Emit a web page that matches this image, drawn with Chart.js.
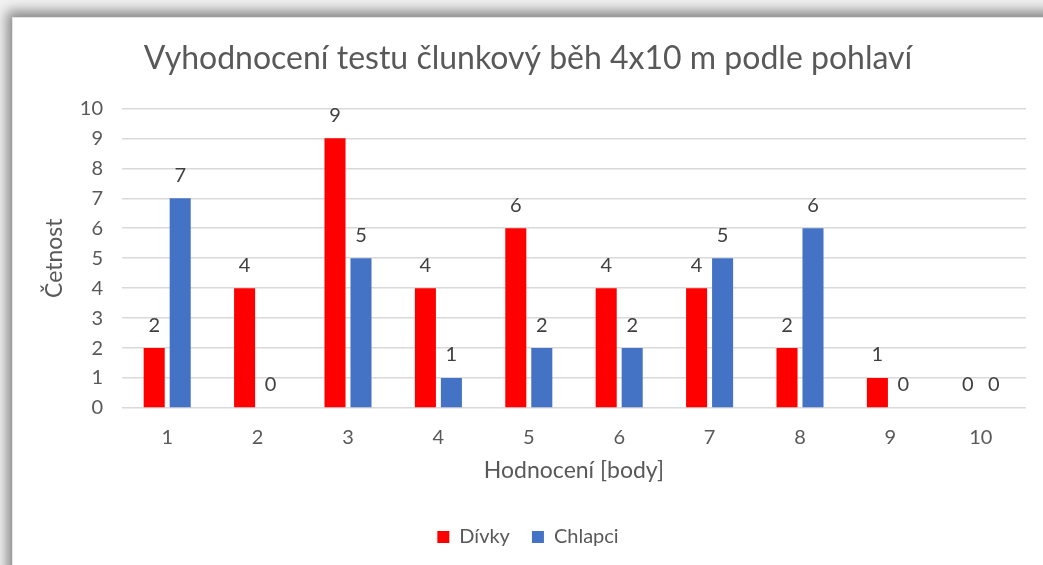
<!DOCTYPE html>
<html>
<head>
<meta charset="utf-8">
<script src="https://cdn.jsdelivr.net/npm/chart.js@4.4.1/dist/chart.umd.min.js"></script>
<style>
  html, body { margin: 0; padding: 0; background: #f2f2f2; overflow: hidden; }
  #frame { position: absolute; left: 12px; top: 17px; width: 1100px; height: 700px; background: #fff;
           border-left: 1px solid #e4e4e4; border-top: 1px solid #e4e4e4;
           box-shadow: -2px -3px 12px 3px rgba(0,0,0,0.45); }
  #wrap { position: absolute; left: 0; top: 0; width: 1043px; height: 565px; }
</style>
</head>
<body>
<div id="frame"></div>
<div id="wrap"><canvas id="c" width="1043" height="565"></canvas></div>
<script>
const categories = ['1', '2', '3', '4', '5', '6', '7', '8', '9', '10'];
const divky = [2, 4, 9, 4, 6, 4, 4, 2, 1, 0];
const chlapci = [7, 0, 5, 1, 2, 2, 5, 6, 0, 0];
const seriesNames = ['Dívky', 'Chlapci'];
const chartTitle = 'Vyhodnocení testu člunkový běh 4x10 m podle pohlaví';
const xTitle = 'Hodnocení [body]';
const yTitle = 'Četnost';

const FONT = 'Lato, "Open Sans", sans-serif';

const valueLabels = {
  id: 'valueLabels',
  afterDatasetsDraw(chart) {
    const ctx = chart.ctx;
    ctx.save();
    ctx.font = '20px ' + FONT;
    ctx.fillStyle = '#404040';
    ctx.textAlign = 'center';
    ctx.textBaseline = 'middle';
    chart.data.datasets.forEach((ds, i) => {
      const meta = chart.getDatasetMeta(i);
      meta.data.forEach((el, j) => {
        ctx.fillText(String(ds.data[j]), el.x, el.y - 23);
      });
    });
    ctx.restore();
  }
};

new Chart(document.getElementById('c'), {
  type: 'bar',
  data: {
    labels: categories,
    datasets: [
      { label: seriesNames[0], data: divky, backgroundColor: '#FF0000',
        categoryPercentage: 0.575, barPercentage: 0.81 },
      { label: seriesNames[1], data: chlapci, backgroundColor: '#4472C4',
        categoryPercentage: 0.575, barPercentage: 0.81 }
    ]
  },
  options: {
    responsive: false,
    animation: false,
    layout: { padding: { left: 30, right: 17, top: 17, bottom: 8 } },
    plugins: {
      title: {
        display: true, text: chartTitle, color: '#595959',
        font: { family: FONT, size: 32, weight: 'normal' },
        padding: { top: 22, bottom: 31 }
      },
      legend: {
        position: 'bottom',
        labels: { color: '#595959', font: { family: FONT, size: 20 },
                  boxWidth: 12, boxHeight: 12, padding: 22 }
      },
      tooltip: { enabled: false }
    },
    scales: {
      x: {
        grid: { display: false, drawTicks: false },
        border: { display: false },
        ticks: { color: '#595959', font: { family: FONT, size: 20 }, padding: 18 },
        title: { display: true, text: xTitle, color: '#595959',
                 font: { family: FONT, size: 23 }, padding: { top: 4, bottom: 21 } },
        afterFit(s) { s.height = 97; }
      },
      y: {
        min: 0, max: 10,
        grid: { color: '#d9d9d9', lineWidth: 1.5, drawTicks: false },
        border: { display: false },
        ticks: { stepSize: 1, color: '#595959', font: { family: FONT, size: 20 }, padding: 19 },
        title: { display: true, text: yTitle, color: '#595959',
                 font: { family: FONT, size: 23 }, padding: { top: 11, bottom: 4 } },
        afterFit(s) { s.width = 92; }
      }
    }
  },
  plugins: [valueLabels]
});
</script>
</body>
</html>
